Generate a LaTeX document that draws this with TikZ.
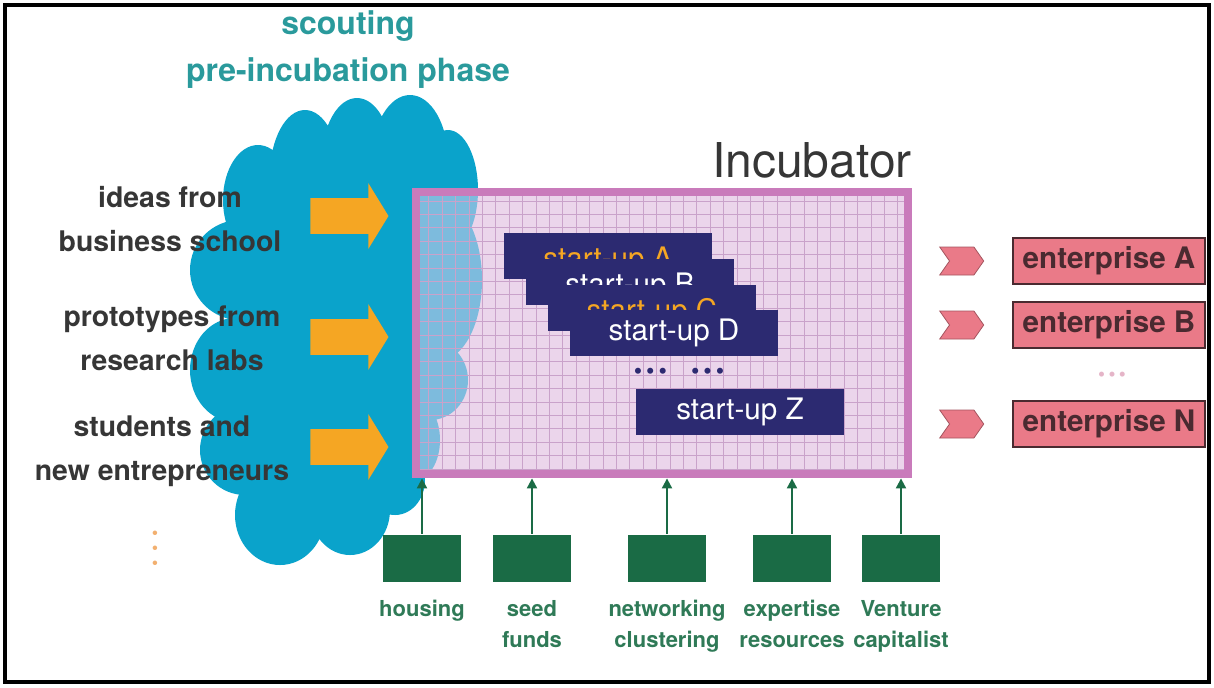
\documentclass[tikz,border=0pt]{standalone}
\usepackage{fontspec}
\setmainfont{TeX Gyre Heros}
\usetikzlibrary{positioning,shapes.arrows,shapes.symbols,arrows.meta}
\definecolor{sky}{HTML}{0AA3CB}
\definecolor{skysoft}{HTML}{7DBBDD}
\definecolor{lilac}{HTML}{EBD5EB}
\definecolor{gridline}{HTML}{C9A2CA}
\definecolor{orchid}{HTML}{C97BBB}
\definecolor{navy}{HTML}{2C2A71}
\definecolor{amber}{HTML}{F5A623}
\definecolor{forest}{HTML}{1A6B45}
\definecolor{leaf}{HTML}{2F7A57}
\definecolor{teal}{HTML}{2A9A9C}
\definecolor{coral}{HTML}{EA7A88}
\definecolor{maroon}{HTML}{4A2A30}
\definecolor{ink}{HTML}{363636}
\definecolor{peach}{HTML}{F2B070}
\definecolor{blush}{HTML}{E5B5C8}

\newcommand\cloudbumps{(258,200) ellipse[x radius=35,y radius=55]
  (305,175) ellipse[x radius=35,y radius=65] (357,160) ellipse[x radius=35,y radius=62]
  (410,160) ellipse[x radius=38,y radius=65] (448,190) ellipse[x radius=30,y radius=60]
  (240,270) ellipse[x radius=50,y radius=50] (235,370) ellipse[x radius=45,y radius=52]
  (245,450) ellipse[x radius=45,y radius=45] (280,515) ellipse[x radius=45,y radius=50]
  (350,510) ellipse[x radius=40,y radius=45] (395,480) ellipse[x radius=30,y radius=35]
  (440,280) ellipse[x radius=42,y radius=80] (430,380) ellipse[x radius=38,y radius=40]
  (415,440) ellipse[x radius=25,y radius=40]}
\newcommand\cloudcore{(258,200) -- (410,160) -- (448,190) -- (440,280) -- (430,380)
  -- (415,440) -- (395,480) -- (350,510) -- (280,515) -- (245,450) -- (235,370) -- (240,270) -- cycle}

\tikzset{
  source/.style={text=ink,font=\bfseries\fontsize{14.2}{22}\selectfont,align=center,inner sep=0pt},
  inflow/.style={single arrow,fill=amber,minimum height=39pt,inner sep=0pt,inner ysep=8.75pt,
    single arrow head extend=7.5pt,single arrow tip angle=117},
  startup/.style={fill=navy,minimum width=104pt,minimum height=23pt,inner sep=0pt,
    font=\fontsize{14.8}{17}\selectfont},
  stacked/.style={text height=14pt,text depth=2pt},
  feeder/.style={fill=forest,minimum width=39pt,minimum height=23.5pt,inner sep=0pt},
  feedlabel/.style={text=leaf,font=\bfseries\fontsize{11}{15.5}\selectfont,align=center,inner sep=0pt},
  feed/.style={forest,line width=1pt,-{Triangle[width=5pt,length=5pt]},shorten >=2pt},
  chevron/.style={signal,signal from=west,signal to=east,signal pointer angle=110,
    fill=coral,draw=coral!70!black,line width=0.4pt,minimum width=22pt,minimum height=14pt,inner sep=0pt},
  enterprise/.style={fill=coral,draw=maroon,line width=0.8pt,minimum width=96pt,minimum height=23pt,
    inner sep=0pt,text=maroon,font=\bfseries\fontsize{14.8}{17}\selectfont}
}

\begin{document}
\begin{tikzpicture}[x=0.5pt,y=-0.5pt]
\useasboundingbox (0,0) rectangle (1214,687);

% cloud of the pre-incubation phase
\fill[sky] \cloudbumps;
\fill[sky] \cloudcore;

% incubator
\node[fill=lilac,minimum width=246pt,minimum height=141pt,inner sep=0pt] (incub) at (662,333) {};
\begin{scope}
\clip (incub.south west) rectangle (incub.north east);
\fill[skysoft] \cloudbumps;
\fill[skysoft] \cloudcore;
\draw[gridline,line width=0.5pt,step=6.7pt] (incub.south west) grid (incub.north east);
\end{scope}
\draw[orchid,line width=4pt] (incub.south west) rectangle (incub.north east);
\node[anchor=base,text=ink,font=\fontsize{24}{28}\selectfont,inner sep=0pt] (incubtitle) at (812,177) {Incubator};

\node[startup,stacked,text=amber] (startA) at (608,256) {start-up A};
\node[startup,stacked,text=white] (startB) at (630,282) {start-up B};
\node[startup,stacked,text=amber] (startC) at (652,308) {start-up C};
\node[startup,text=white] (startD) at (674,333) {start-up D};
\node[text=navy,font=\fontsize{12}{14}\selectfont,inner sep=0pt] (startdots) at (679,374)
  {\textbullet\,\textbullet\,\textbullet\quad\textbullet\,\textbullet\,\textbullet};
\node[startup,text=white] (startZ) at (740,412) {start-up Z};

% sources
\node[source] (ideas) at (170,219) {ideas from\\business school};
\node[source] (proto) at (172,338) {prototypes from\\research labs};
\node[source] (students) at (162,451) {students and\\new entrepreneurs};
\node[text=peach,font=\fontsize{9}{7.5}\selectfont,align=center,inner sep=0pt] (moresources) at (155,550)
  {\textbullet\\\textbullet\\\textbullet};
\node[inflow] (inideas) at (344,216) {};
\node[inflow] (inproto) at (344,337) {};
\node[inflow] (instudents) at (344,447) {};

% support
\node[feeder] (housing) at (422,558) {};
\node[feeder] (seed) at (532,558) {};
\node[feeder] (network) at (667,558) {};
\node[feeder] (expert) at (792,558) {};
\node[feeder] (venture) at (901,558) {};
\node[feedlabel,below=9pt of housing] {housing};
\node[feedlabel,below=9pt of seed] {seed\\funds};
\node[feedlabel,below=9pt of network] {networking\\clustering};
\node[feedlabel,below=9pt of expert] {expertise\\resources};
\node[feedlabel,below=9pt of venture] {Venture\\capitalist};
\draw[feed] (housing) -- (housing |- incub.south);
\draw[feed] (seed) -- (seed |- incub.south);
\draw[feed] (network) -- (network |- incub.south);
\draw[feed] (expert) -- (expert |- incub.south);
\draw[feed] (venture) -- (venture |- incub.south);

% enterprises
\node[enterprise] (entA) at (1109,261) {enterprise A};
\node[enterprise] (entB) at (1109,325) {enterprise B};
\node[enterprise] (entN) at (1109,424) {enterprise N};
\node[chevron,left=14pt of entA] (outA) {};
\node[chevron,left=14pt of entB] (outB) {};
\node[chevron,left=14pt of entN] (outN) {};
\node[text=blush,font=\fontsize{10}{12}\selectfont,inner sep=0pt] (entdots) at (1112,377)
  {\textbullet\,\textbullet\,\textbullet};

\node[text=teal,font=\bfseries\fontsize{16}{23.5}\selectfont,align=center,inner sep=0pt] (phase) at (348,50)
  {scouting\\pre-incubation phase};

\draw[line width=2pt] (5,5) rectangle (1209,682);
\end{tikzpicture}
\end{document}
